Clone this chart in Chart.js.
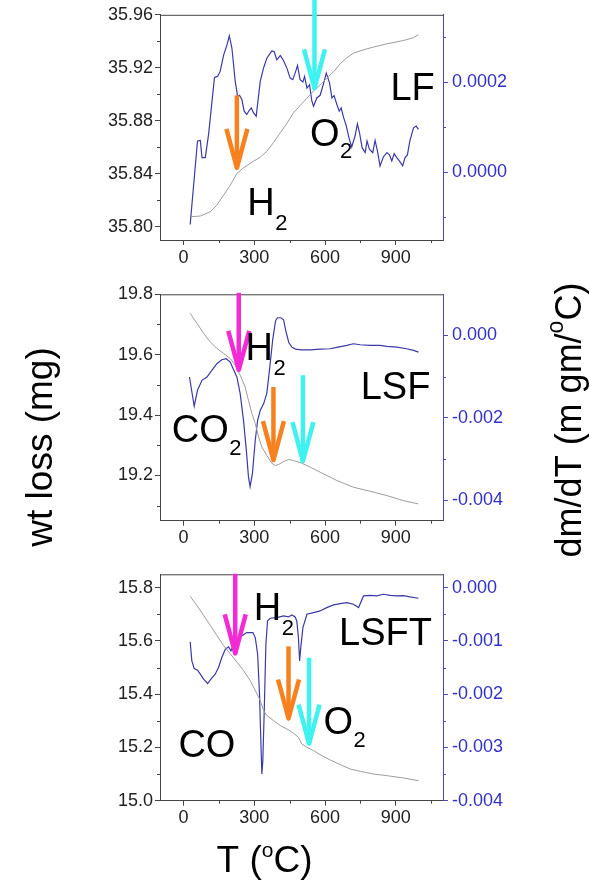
<!DOCTYPE html>
<html>
<head>
<meta charset="utf-8">
<script src="https://cdn.jsdelivr.net/npm/chart.js@4.4.0/dist/chart.umd.min.js"></script>
<style>
  html, body { margin: 0; padding: 0; background: #ffffff; }
  #wrap { position: relative; width: 590px; height: 886px; overflow: hidden; }
  canvas { position: absolute; left: 0; top: 0; }
</style>
</head>
<body>
<div id="wrap">
  <canvas id="c1" width="590" height="886"></canvas>
  <canvas id="c2" width="590" height="886"></canvas>
  <canvas id="c3" width="590" height="886"></canvas>
</div>
<script>
// ---------------- DATA ----------------
// common temperature axis ticks (°C)
const xTicks = [0, 300, 600, 900];
const xMinor = [150, 450, 750, 1050];

// Panel LF : weight (mg) and dm/dT
const lfT_w = [32,71,113,141,170,198,226,254,297,325,353,381,410,438,466,494,523,551,579,607,636,664,692,720,763,805,862,932,975,996];
const lfW   = [35.8076,35.8081,35.8113,35.8163,35.8239,35.8314,35.8402,35.8445,35.8495,35.8525,35.857,35.8635,35.871,35.878,35.886,35.8915,35.897,35.9025,35.907,35.912,35.917,35.923,35.9275,35.931,35.9336,35.9356,35.9381,35.9406,35.9427,35.9449];
const lfT_d = [28,59,71,78,92,106,131,144,155,170,184,194,205,219,229,237,247,257,268,278,287,297,308,325,339,353,374,384,395,410,424,438,452,463,473,483,494,506,513,523,534,544,551,565,579,593,605,619,629,638,650,660,668,678,689,703,713,727,737,746,757,770,778,788,802,812,822,833,847,862,873,883,893,904,915,929,939,949,960,975,986,996];
const lfD   = [-1.157e-4,0.698e-4,0.712e-4,0.329e-4,0.329e-4,0.845e-4,2.11e-4,2.132e-4,2.243e-4,2.611e-4,2.832e-4,3.031e-4,2.757e-4,2.022e-4,1.691e-4,1.713e-4,1.618e-4,1.36e-4,1.287e-4,1.375e-4,1.433e-4,1.322e-4,1.249e-4,2.022e-4,2.316e-4,2.536e-4,2.7e-4,2.684e-4,2.501e-4,2.596e-4,2.479e-4,2.316e-4,2.095e-4,2.06e-4,2.205e-4,2.375e-4,2.06e-4,2.007e-4,2.132e-4,1.874e-4,1.949e-4,1.581e-4,1.47e-4,1.653e-4,1.713e-4,1.962e-4,2.205e-4,1.985e-4,1.653e-4,1.706e-4,1.508e-4,1.36e-4,1.433e-4,1.227e-4,1.051e-4,0.735e-4,0.565e-4,0.808e-4,1.079e-4,0.881e-4,0.55e-4,0.439e-4,0.698e-4,0.514e-4,0.439e-4,0.712e-4,0.477e-4,0.146e-4,0.344e-4,0.439e-4,0.389e-4,0.256e-4,0.417e-4,0.329e-4,0.256e-4,0.146e-4,0.329e-4,0.389e-4,0.712e-4,0.991e-4,1.029e-4,0.956e-4];
const lfLeftTicks  = [35.80, 35.84, 35.88, 35.92, 35.96];
const lfLeftMinor  = [35.82, 35.86, 35.90, 35.94];
const lfRightTicks = [0, 0.0002];
const lfRightMinor = [-0.0001, 0.0001, 0.0003];

// Panel LSF
const lsfT_w = [28,57,85,113,141,170,198,219,240,261,275,290,304,318,332,353,374,388,403,424,445,466,501,537,579,650,720,791,862,932,996];
const lsfW   = [19.7368,19.7036,19.6703,19.6426,19.6205,19.6039,19.5873,19.5651,19.5319,19.4931,19.4488,19.4045,19.3713,19.327,19.2938,19.2661,19.2406,19.2329,19.2362,19.2462,19.2528,19.2495,19.2406,19.2273,19.2107,19.1831,19.1609,19.1476,19.1332,19.1166,19.1055];
const lsfT_d = [25,45,59,78,99,120,141,162,181,198,212,226,240,254,266,275,282,292,304,314,325,340,353,365,378,390,398,412,424,434,446,460,475,500,537,579,621,650,692,720,749,791,833,862,904,946,975,996];
const lsfD   = [-1.009e-3,-1.719e-3,-1.332e-3,-1.09e-3,-1.009e-3,-0.847e-3,-0.686e-3,-0.589e-3,-0.565e-3,-0.646e-3,-0.831e-3,-1.009e-3,-1.412e-3,-2.058e-3,-2.785e-3,-3.43e-3,-3.672e-3,-3.35e-3,-2.54e-3,-2.06e-3,-1.82e-3,-1.65e-3,-1.4e-3,-0.8e-3,-0.1e-3,0.36e-3,0.43e-3,0.43e-3,0.38e-3,0.1e-3,-0.17e-3,-0.29e-3,-0.33e-3,-0.35e-3,-0.35e-3,-0.331e-3,-0.323e-3,-0.29e-3,-0.242e-3,-0.202e-3,-0.226e-3,-0.242e-3,-0.242e-3,-0.266e-3,-0.283e-3,-0.323e-3,-0.363e-3,-0.404e-3];
const lsfLeftTicks  = [19.2, 19.4, 19.6, 19.8];
const lsfLeftMinor  = [19.1, 19.3, 19.5, 19.7];
const lsfRightTicks = [-0.004, -0.002, 0];
const lsfRightMinor = [-0.003, -0.001];

// Panel LSFT
const lsftT_w = [28,56,85,113,141,169,198,226,254,282,304,325,339,353,381,410,438,466,487,501,523,551,579,621,664,706,749,805,862,932,996];
const lsftW   = [15.7674,15.7335,15.6959,15.6583,15.6207,15.5831,15.5517,15.5204,15.489,15.4514,15.4138,15.3762,15.3386,15.3197,15.3009,15.2821,15.2696,15.2533,15.2382,15.2132,15.2006,15.1881,15.173,15.153,15.1354,15.1191,15.1103,15.1003,15.094,15.0853,15.0752];
const lsftT_d = [28,35,45,59,71,85,102,116,134,148,162,177,191,201,219,240,268,294,304,314,322,328,332,336,342,349,356,367,395,424,445,459,473,480,487,492,497,506,523,551,579,607,636,664,692,720,742,763,791,819,847,876,904,932,960,996];
const lsftD   = [-1.019e-3,-1.375e-3,-1.519e-3,-1.55e-3,-1.625e-3,-1.719e-3,-1.8e-3,-1.719e-3,-1.625e-3,-1.5e-3,-1.3125e-3,-1.156e-3,-1.1125e-3,-1.1875e-3,-1.0e-3,-0.925e-3,-0.844e-3,-0.844e-3,-0.9375e-3,-1.25e-3,-2.0e-3,-2.9375e-3,-3.5e-3,-3.25e-3,-2.3125e-3,-1.0625e-3,-0.625e-3,-0.575e-3,-0.5625e-3,-0.531e-3,-0.55e-3,-0.5125e-3,-0.55e-3,-0.625e-3,-0.9375e-3,-1.375e-3,-1.125e-3,-0.75e-3,-0.5e-3,-0.469e-3,-0.4375e-3,-0.375e-3,-0.325e-3,-0.3e-3,-0.281e-3,-0.3125e-3,-0.375e-3,-0.156e-3,-0.144e-3,-0.156e-3,-0.125e-3,-0.144e-3,-0.156e-3,-0.15e-3,-0.175e-3,-0.2e-3];
const lsftLeftTicks  = [15.0, 15.2, 15.4, 15.6, 15.8];
const lsftLeftMinor  = [15.1, 15.3, 15.5, 15.7];
const lsftRightTicks = [-0.004, -0.003, -0.002, -0.001, 0];
const lsftRightMinor = [-0.0035, -0.0025, -0.0015, -0.0005];

// ---------------- STYLE ----------------
const FONT = '"Liberation Sans", Arial, Helvetica, sans-serif';
const AXIS = '#444444';
const BLUE_AXIS = '#4a4ab8';
const BLUE_TXT = '#3232c4';
const BLUE_LINE = '#3a3aa8';
const GRAY_LINE = '#9c9c9c';
const ORANGE = '#f7811e';
const CYAN = '#3ef2f0';
const MAGENTA = '#f22bd6';

Chart.defaults.font.family = FONT;

function pts(xs, ys) { return xs.map((v, i) => ({ x: v, y: ys[i] })); }
function clean(v) { return Math.abs(v) < 1e-12 ? 0 : v; }

const notesPlugin = {
  id: 'notes',
  afterDatasetsDraw(chart, args, o) {
    const { ctx, chartArea: a, scales } = chart;
    const sx = scales.x, sl = scales.yL, sr = scales.yR;
    ctx.save();
    // top frame line
    ctx.strokeStyle = AXIS; ctx.lineWidth = 1;
    ctx.beginPath(); ctx.moveTo(a.left, a.top + 0.5); ctx.lineTo(a.right + 0.5, a.top + 0.5); ctx.stroke();
    // minor ticks
    ctx.beginPath();
    o.xMinor.forEach(v => { const p = Math.round(sx.getPixelForValue(v)) + 0.5; ctx.moveTo(p, a.bottom); ctx.lineTo(p, a.bottom + 3); });
    o.leftMinor.forEach(v => { const p = Math.round(sl.getPixelForValue(v)) + 0.5; ctx.moveTo(a.left, p); ctx.lineTo(a.left - 3, p); });
    ctx.stroke();
    ctx.strokeStyle = BLUE_AXIS;
    ctx.beginPath();
    o.rightMinor.forEach(v => { const p = Math.round(sr.getPixelForValue(v)) + 0.5; ctx.moveTo(a.right, p); ctx.lineTo(a.right + 3, p); });
    ctx.stroke();
    // arrows
    o.arrows.forEach(ar => {
      const px = sx.getPixelForValue(ar.x);
      const pTop = sl.getPixelForValue(ar.top);
      const pTip = sl.getPixelForValue(ar.tip);
      ctx.strokeStyle = ar.color; ctx.lineWidth = 4.5; ctx.lineCap = 'butt'; ctx.lineJoin = 'round';
      ctx.beginPath(); ctx.moveTo(px, pTop); ctx.lineTo(px, pTip - 2); ctx.stroke();
      ctx.beginPath(); ctx.moveTo(px - 10.5, pTip - 41); ctx.lineTo(px, pTip - 2); ctx.lineTo(px + 10.5, pTip - 41); ctx.stroke();
    });
    // text labels
    ctx.fillStyle = '#000'; ctx.textAlign = 'left'; ctx.textBaseline = 'alphabetic';
    o.labels.forEach(t => {
      const lx = sx.getPixelForValue(t.x), ly = sl.getPixelForValue(t.y);
      ctx.font = '38px ' + FONT;
      ctx.fillText(t.text, lx, ly);
      if (t.sub) {
        const w = ctx.measureText(t.text).width;
        ctx.font = '22px ' + FONT;
        ctx.fillText(t.sub, lx + w + 0.5, ly + t.subDy);
      }
    });
    ctx.restore();
  },
  afterDraw(chart, args, o) {
    if (!o.titles) return;
    const ctx = chart.ctx;
    ctx.save();
    ctx.fillStyle = '#000'; ctx.textBaseline = 'alphabetic';
    // left title
    ctx.save();
    ctx.translate(52, 447); ctx.rotate(-Math.PI / 2);
    ctx.font = '37px ' + FONT; ctx.textAlign = 'center';
    ctx.fillText('wt loss (mg)', 0, 0);
    ctx.restore();
    // right title with superscript o
    ctx.save();
    ctx.translate(581, 420); ctx.rotate(-Math.PI / 2);
    ctx.textAlign = 'left';
    ctx.font = '36px ' + FONT;
    const p1 = 'dm/dT (m gm/', p2 = 'C)';
    const w1 = ctx.measureText(p1).width, w2 = ctx.measureText(p2).width;
    ctx.font = '23px ' + FONT;
    const ws = ctx.measureText('o').width;
    let x0 = -(w1 + ws + w2) / 2;
    ctx.font = '36px ' + FONT; ctx.fillText(p1, x0, 0);
    ctx.font = '23px ' + FONT; ctx.fillText('o', x0 + w1, -18);
    ctx.font = '36px ' + FONT; ctx.fillText(p2, x0 + w1 + ws, 0);
    ctx.restore();
    // bottom title
    ctx.save();
    ctx.textAlign = 'left';
    ctx.font = '37px ' + FONT;
    const q1 = 'T (', q2 = 'C)';
    const v1 = ctx.measureText(q1).width, v2 = ctx.measureText(q2).width;
    ctx.font = '21px ' + FONT;
    const vs = ctx.measureText('o').width;
    const s0 = 264.5 - (v1 + vs + v2) / 2;
    ctx.font = '37px ' + FONT; ctx.fillText(q1, s0, 871.5);
    ctx.font = '21px ' + FONT; ctx.fillText('o', s0 + v1, 856.5);
    ctx.font = '37px ' + FONT; ctx.fillText(q2, s0 + v1 + vs, 871.5);
    ctx.restore();
    ctx.restore();
  }
};

function makePanel(id, p) {
  const H = 886;
  return new Chart(document.getElementById(id), {
    type: 'scatter',
    data: {
      datasets: [
        { data: pts(p.tw, p.w), yAxisID: 'yL', showLine: true, borderColor: GRAY_LINE, borderWidth: 1, pointRadius: 0, tension: 0 },
        { data: pts(p.td, p.d), yAxisID: 'yR', showLine: true, borderColor: BLUE_LINE, borderWidth: 1.2, pointRadius: 0, tension: 0 }
      ]
    },
    options: {
      responsive: false, maintainAspectRatio: false, devicePixelRatio: 1, animation: false,
      layout: { padding: { top: p.top, bottom: H - p.bottom - 30, left: 0, right: 0 } },
      plugins: {
        legend: { display: false }, tooltip: { enabled: false },
        notes: { xMinor, leftMinor: p.leftMinor, rightMinor: p.rightMinor, arrows: p.arrows, labels: p.labels, titles: !!p.titles }
      },
      scales: {
        x: {
          type: 'linear', position: 'bottom', min: -100, max: 1100,
          afterBuildTicks: s => { s.ticks = xTicks.map(v => ({ value: v })); },
          afterFit: s => { s.height = 30; },
          ticks: { color: '#222', font: { size: 18 }, padding: 2, maxRotation: 0, autoSkip: false, callback: v => String(v) },
          grid: { drawOnChartArea: false, drawTicks: true, tickLength: 5, tickColor: AXIS, tickWidth: 1 },
          border: { display: true, color: AXIS, width: 1 }
        },
        yL: {
          type: 'linear', position: 'left', min: p.lmin, max: p.lmax,
          afterBuildTicks: s => { s.ticks = p.lt.map(v => ({ value: v })); },
          afterFit: s => { s.width = 160; },
          ticks: { color: '#222', font: { size: 18 }, padding: 2, autoSkip: false, callback: v => Number(v).toFixed(p.ld) },
          grid: { drawOnChartArea: false, drawTicks: true, tickLength: 5, tickColor: AXIS, tickWidth: 1 },
          border: { display: true, color: AXIS, width: 1 }
        },
        yR: {
          type: 'linear', position: 'right', min: p.rmin, max: p.rmax,
          afterBuildTicks: s => { s.ticks = p.rt.map(v => ({ value: v })); },
          afterFit: s => { s.width = 147; },
          ticks: { color: BLUE_TXT, font: { size: 18 }, padding: 4, autoSkip: false, callback: v => clean(Number(v)).toFixed(p.rd) },
          grid: { drawOnChartArea: false, drawTicks: true, tickLength: 5, tickColor: BLUE_AXIS, tickWidth: 1 },
          border: { display: true, color: BLUE_AXIS, width: 1 }
        }
      }
    },
    plugins: [notesPlugin]
  });
}

makePanel('c1', {
  top: 14.3, bottom: 240,
  tw: lfT_w, w: lfW, td: lfT_d, d: lfD,
  lmin: 35.79, lmax: 35.96, lt: lfLeftTicks, ld: 2, leftMinor: lfLeftMinor,
  rmin: -0.00015, rmax: 0.00035, rt: lfRightTicks, rd: 4, rightMinor: lfRightMinor,
  arrows: [
    { x: 226, top: 35.8992, tip: 35.843, color: ORANGE },
    { x: 555, top: 35.972, tip: 35.903, color: CYAN }
  ],
  labels: [
    { text: 'LF', x: 877, y: 35.896 },
    { text: 'O', sub: '2', subDy: 12, x: 536, y: 35.8606 },
    { text: 'H', sub: '2', subDy: 15, x: 270, y: 35.8088 }
  ]
});

makePanel('c2', {
  top: 294.3, bottom: 520.7,
  tw: lsfT_w, w: lsfW, td: lsfT_d, d: lsfD,
  lmin: 19.05, lmax: 19.8, lt: lsfLeftTicks, ld: 1, leftMinor: lsfLeftMinor,
  rmin: -0.0045, rmax: 0.001, rt: lsfRightTicks, rd: 3, rightMinor: lsfRightMinor,
  arrows: [
    { x: 234, top: 19.805, tip: 19.543, color: MAGENTA },
    { x: 381, top: 19.493, tip: 19.244, color: ORANGE },
    { x: 506, top: 19.532, tip: 19.2405, color: CYAN }
  ],
  labels: [
    { text: 'H', sub: '2', subDy: 15, x: 263, y: 19.5817 },
    { text: 'LSF', x: 751, y: 19.4545 },
    { text: 'CO', sub: '2', subDy: 13, x: -50, y: 19.3103 }
  ]
});

makePanel('c3', {
  top: 574.3, bottom: 800.7, titles: true,
  tw: lsftT_w, w: lsftW, td: lsftT_d, d: lsftD,
  lmin: 15.0, lmax: 15.85, lt: lsftLeftTicks, ld: 1, leftMinor: lsftLeftMinor,
  rmin: -0.004, rmax: 0.00025, rt: lsftRightTicks, rd: 3, rightMinor: lsftRightMinor,
  arrows: [
    { x: 219, top: 15.852, tip: 15.5455, color: MAGENTA },
    { x: 445, top: 15.5793, tip: 15.301, color: ORANGE },
    { x: 532, top: 15.5367, tip: 15.2069, color: CYAN }
  ],
  labels: [
    { text: 'H', sub: '2', subDy: 15, x: 298, y: 15.677 },
    { text: 'LSFT', x: 659, y: 15.583 },
    { text: 'CO', x: -22, y: 15.1632 },
    { text: 'O', sub: '2', subDy: 13, x: 593, y: 15.2511 }
  ]
});
</script>
</body>
</html>
